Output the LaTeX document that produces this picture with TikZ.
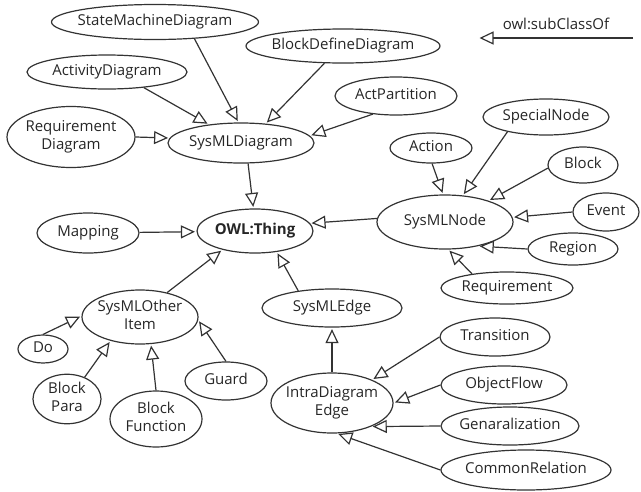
\documentclass[tikz,border=0pt]{standalone}
\usepackage{fontspec}
\setmainfont{Open Sans}
\usetikzlibrary{arrows.meta,shapes.geometric}
\newcommand{\cname}[1]{\makebox[0pt]{\begin{tabular}{@{}c@{}}#1\end{tabular}}}

\begin{document}
\begin{tikzpicture}[x=1pt,y=-1pt,
    cls/.style 2 args={draw=black!80, ellipse, line width=1.2pt, inner sep=0pt,
        minimum width=#1, minimum height=#2, text=black!85,
        font=\fontsize{15}{17.5}\selectfont},
    sub/.style={draw=black!80, line width=1.2pt, shorten >=1.5pt,
        -{Triangle[open,length=14pt,width=13pt]}}]

\useasboundingbox (0,0) rectangle (641,491);

% diagram classes
\node[cls={207}{35}] (smd) at (155,22) {\cname{StateMachineDiagram}};
\node[cls={194}{34}] (bdd) at (343,46) {\cname{BlockDefineDiagram}};
\node[cls={160}{34}] (ad) at (107,72) {\cname{ActivityDiagram}};
\node[cls={122}{38}] (ap) at (396,96) {\cname{ActPartition}};
\node[cls={128}{61}] (rd) at (71,137) {\cname{Requirement\\Diagram}};
\node[cls={146}{40}] (sysd) at (241,143) {\cname{SysMLDiagram}};

% root
\node[cls={116}{44}] (owl) at (255,231) {\cname{\textbf{OWL:Thing}}};
\node[cls={102}{40}] (map) at (88,233) {\cname{Mapping}};

% node classes
\node[cls={126}{36}] (sn) at (546,117) {\cname{SpecialNode}};
\node[cls={82}{30}] (act) at (431,148) {\cname{Action}};
\node[cls={70}{36}] (blk) at (583,165) {\cname{Block}};
\node[cls={66}{38}] (evt) at (606,212) {\cname{Event}};
\node[cls={136}{54}] (sysn) at (445,222) {\cname{SysMLNode}};
\node[cls={90}{32}] (reg) at (573,249) {\cname{Region}};
\node[cls={132}{32}] (req) at (507,288) {\cname{Requirement}};

% other items
\node[cls={116}{54}] (soi) at (140,317) {\cname{SysMLOther\\Item}};
\node[cls={50}{28}] (do) at (43,349) {\cname{Do}};
\node[cls={68}{48}] (bp) at (67,399) {\cname{Block\\Para}};
\node[cls={92}{56}] (bf) at (156,419) {\cname{Block\\Function}};
\node[cls={82}{38}] (grd) at (226,381) {\cname{Guard}};

% edge classes
\node[cls={140}{38}] (syse) at (332,308) {\cname{SysMLEdge}};
\node[cls={122}{60}] (ide) at (332,403) {\cname{IntraDiagram\\Edge}};
\node[cls={110}{38}] (tr) at (495,337) {\cname{Transition}};
\node[cls={126}{38}] (of) at (504,385) {\cname{ObjectFlow}};
\node[cls={138}{38}] (gen) at (510,426) {\cname{Genaralization}};
\node[cls={170}{40}] (cr) at (526,470) {\cname{CommonRelation}};

% legend
\coordinate (lgA) at (633,38);
\coordinate (lgB) at (478,38);
\node[text=black!85, font=\fontsize{15}{17.5}\selectfont] (lgT) at (556,24) {owl:subClassOf};
\draw[sub] (lgA) -- (lgB);

% subclass links
\draw[sub] (smd.-23) -- (sysd.97);
\draw[sub] (bdd.-137) -- (sysd.38);
\draw[sub] (ad.-23) -- (sysd.150);
\draw[sub] (rd.east) -- (sysd.176);
\draw[sub] (ap.-142) -- (sysd.6);
\draw[sub] (sysd.-71) -- (owl.94);
\draw[sub] (map) -- (owl);
\draw[sub] (sysn.177) -- (owl.8);
\draw[sub] (soi.42) -- (owl.-150);
\draw[sub] (syse.153) -- (owl.-44);

\draw[sub] (sn.-159) -- (sysn.56);
\draw[sub] (act.-86) -- (sysn.94);
\draw[sub] (blk.-175) -- (sysn.26);
\draw[sub] (evt.180) -- (sysn.4);
\draw[sub] (reg.180) -- (sysn.-36);
\draw[sub] (req.158) -- (sysn.-83);

\draw[sub] (do.90) -- (soi.179);
\draw[sub] (bp.51) -- (soi.-141);
\draw[sub] (bf.90) -- (soi.-68);
\draw[sub] (grd.90) -- (soi.-3);

\draw[sub] (ide) -- (syse);
\draw[sub] (tr.180) -- (ide.30);
\draw[sub] (of.180) -- (ide.0);
\draw[sub] (gen.180) -- (ide.-31);
\draw[sub] (cr.180) -- (ide.-81);

\end{tikzpicture}
\end{document}
